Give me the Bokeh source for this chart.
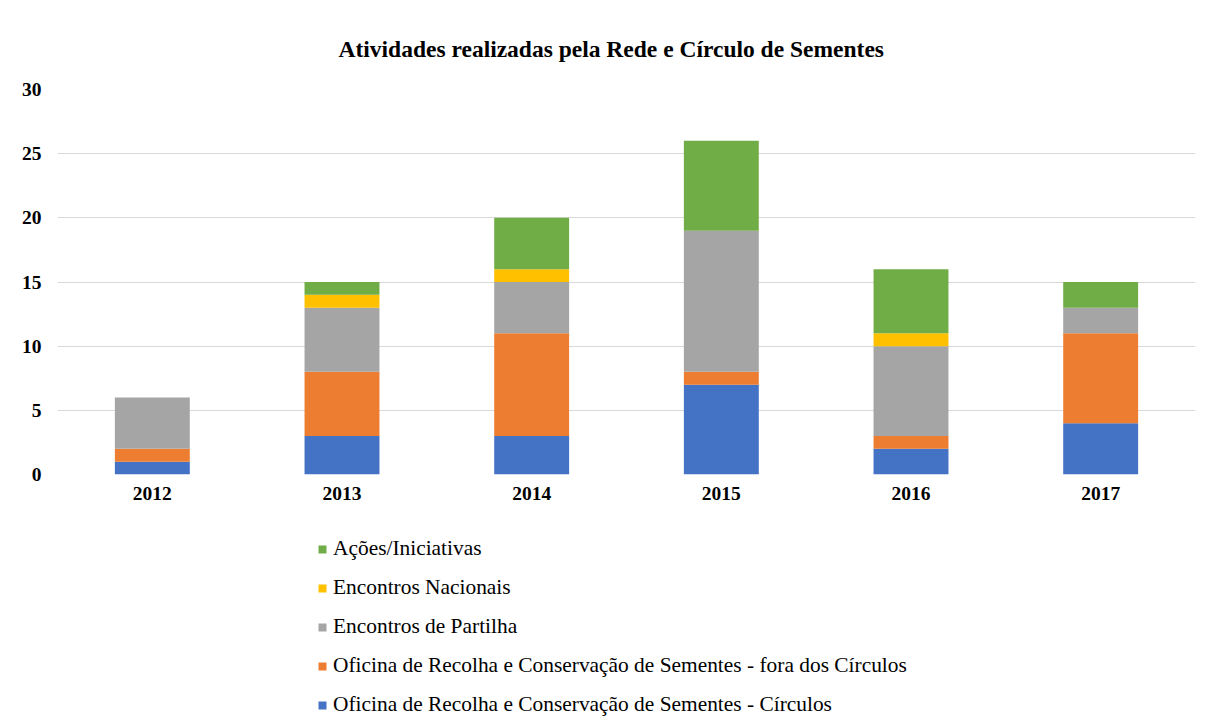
from bokeh.plotting import figure
from bokeh.models import Legend, LegendItem, FixedTicker, ColumnDataSource
from bokeh.layouts import column
from bokeh.embed import file_html
from bokeh.resources import INLINE

years = ["2012", "2013", "2014", "2015", "2016", "2017"]
circulos = [1, 3, 3, 7, 2, 4]
fora = [1, 5, 8, 1, 1, 7]
partilha = [4, 5, 4, 11, 7, 2]
nacionais = [0, 1, 1, 0, 1, 0]
acoes = [0, 1, 4, 7, 5, 2]

series_keys = ["circulos", "fora", "partilha", "nacionais", "acoes"]
series_labels = [
    "Oficina de Recolha e Conservação de Sementes - Círculos",
    "Oficina de Recolha e Conservação de Sementes - fora dos Círculos",
    "Encontros de Partilha",
    "Encontros Nacionais",
    "Ações/Iniciativas",
]
colors = ["#4472C4", "#ED7D31", "#A5A5A5", "#FFC000", "#70AD47"]

source = ColumnDataSource(dict(years=years, circulos=circulos, fora=fora,
                               partilha=partilha, nacionais=nacionais, acoes=acoes))

FONT = "Liberation Serif"

p = figure(x_range=years, y_range=(0, 30), frame_width=1138, frame_height=385,
           output_backend="svg", toolbar_location=None,
           min_border_left=57, min_border_right=9, min_border_top=89,
           min_border_bottom=34)

renderers = p.vbar_stack(series_keys, x="years", width=0.395, color=colors,
                         source=source, line_color=None)

p.title.text = "Atividades realizadas pela Rede e Círculo de Sementes"
p.title.text_font = FONT
p.title.text_font_size = "23.5px"
p.title.text_font_style = "bold"
p.title.text_color = "#000000"
p.title.align = "left"
p.title.offset = 281
p.title.standoff = 56

p.outline_line_color = None
p.xgrid.grid_line_color = None
p.ygrid.grid_line_color = "#d9d9d9"
p.ygrid.grid_line_width = 1
p.yaxis.ticker = FixedTicker(ticks=[0, 5, 10, 15, 20, 25, 30])

for ax in (p.xaxis, p.yaxis):
    ax.axis_line_color = None
    ax.major_tick_line_color = None
    ax.minor_tick_line_color = None
    ax.major_tick_out = 0
    ax.major_tick_in = 0
    ax.major_label_text_font = FONT
    ax.major_label_text_font_size = "19.5px"
    ax.major_label_text_font_style = "bold"
    ax.major_label_text_color = "#000000"
p.yaxis.major_label_standoff = 16
p.xaxis.major_label_standoff = 12

# legend figure (holds only the legend; its swatches come from off-range quads)
lg = figure(x_range=(0, 1), y_range=(0, 1), width=1204, height=212,
            output_backend="svg", toolbar_location=None,
            x_axis_location=None, y_axis_location=None,
            min_border=0, outline_line_color=None)
lg.grid.visible = False
offrange = ColumnDataSource(dict(l=[5], r=[6], t=[6], b=[5]))
dummies = [lg.quad(left="l", right="r", top="t", bottom="b", source=offrange,
                   fill_color=c, line_color=None)
           for c in colors]

items = [LegendItem(label=lab, renderers=[r]) for lab, r in zip(series_labels, dummies)]
items = items[::-1]
legend = Legend(items=items, orientation="vertical", location=(260, 3))
legend.label_text_font = FONT
legend.label_text_font_size = "21.4px"
legend.label_text_color = "#000000"
legend.glyph_width = 10
legend.glyph_height = 10
legend.label_height = 20
legend.spacing = 14
legend.padding = 0
legend.margin = 0
legend.border_line_color = None
legend.background_fill_alpha = 0
legend.label_standoff = 6
lg.add_layout(legend, "center")

layout = column(p, lg, spacing=0)
open("out.html", "w").write(file_html(layout, INLINE))
